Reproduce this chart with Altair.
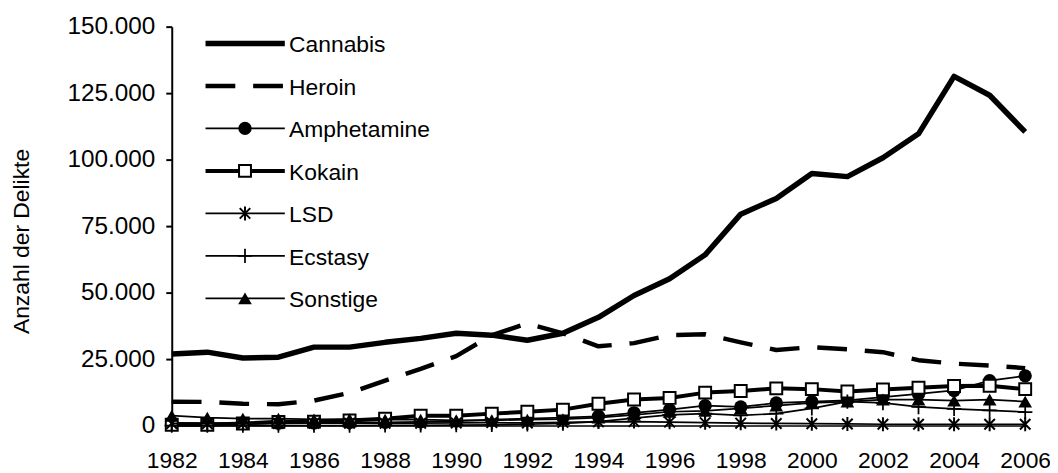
import altair as alt
import pandas as pd

years = list(range(1982, 2007))

cannabis = [26900, 27600, 25400, 25700, 29500, 29500, 31300, 32800, 34700, 34000,
            32100, 34700, 40700, 48900, 55200, 64200, 79500, 85400, 94800, 93600,
            100700, 109700, 131300, 124200, 110400]
heroin = [9000, 8900, 8200, 8000, 9400, 12300, 16900, 21300, 26100, 34000,
          38400, 34700, 29800, 31000, 34000, 34300, 31300, 28400, 29500, 28700,
          27600, 24600, 23300, 22600, 21600]
amphetamine = [1000, 900, 900, 900, 1000, 1100, 1200, 1400, 1700, 2200,
               2600, 3000, 3500, 4800, 6000, 7500, 7000, 8500, 9000, 9500,
               10700, 11900, 13200, 16900, 18700]
kokain = [300, 300, 800, 1400, 1500, 1900, 2600, 3700, 3700, 4500,
          5200, 6000, 8200, 9800, 10400, 12400, 13000, 14000, 13700, 12800,
          13600, 14200, 14900, 15000, 13700]
lsd = [800, 700, 700, 800, 900, 900, 900, 900, 1000, 1100,
       1000, 1200, 1400, 1500, 1300, 1100, 900, 800, 700, 600,
       500, 500, 500, 500, 500]
ecstasy = [0, 0, 0, 0, 0, 0, 100, 100, 200, 300,
           500, 800, 1500, 2800, 4000, 4500, 3800, 4500, 6500, 9000,
           8500, 7000, 6300, 5700, 5100]
sonstige = [3700, 3000, 2600, 2600, 2300, 2400, 2200, 2200, 2000, 2000,
            2200, 2400, 3000, 4000, 5200, 5500, 6500, 7500, 8500, 9000,
            9800, 9800, 9400, 9800, 9000]

series_names = ["Cannabis", "Heroin", "Amphetamine", "Kokain", "LSD", "Ecstasy", "Sonstige"]
series_values = [cannabis, heroin, amphetamine, kokain, lsd, ecstasy, sonstige]
y_ticks = [0, 25000, 50000, 75000, 100000, 125000, 150000]
x_ticks = list(range(1982, 2007, 2))

FONT = "Liberation Sans"
ASTERISK = "M0,-1L0,1M-0.75,-0.75L0.75,0.75M-0.75,0.75L0.75,-0.75"
PLUS = "M-1,0L1,0M0,-1L0,1"

styles = {
    "Cannabis": dict(w=5.5, dash=None, shape=None),
    "Heroin": dict(w=4.5, dash=[30, 18], shape=None),
    "Amphetamine": dict(w=1.75, dash=None, shape="circle", fill="black", stroke="black", sw=0, size=180),
    "Kokain": dict(w=4, dash=None, shape="square", fill="white", stroke="black", sw=2, size=144),
    "LSD": dict(w=1.75, dash=None, shape=ASTERISK, fill="transparent", stroke="black", sw=2, size=200),
    "Ecstasy": dict(w=1.75, dash=None, shape=PLUS, fill="transparent", stroke="black", sw=1.75, size=210),
    "Sonstige": dict(w=1.75, dash=None, shape="triangle-up", fill="black", stroke="black", sw=0, size=190),
}

x_scale = alt.Scale(domain=[1982, 2006], nice=False, zero=False)
y_scale = alt.Scale(domain=[0, 150000], nice=False)

x_axis = alt.Axis(values=x_ticks, format="d", grid=False, ticks=False, domain=True,
                  domainColor="black", domainWidth=1.5, labelFont=FONT, labelFontSize=23,
                  labelColor="black", labelPadding=24, title=None, labelFlush=False)
y_axis = alt.Axis(values=y_ticks, grid=False, domainColor="black", domainWidth=2,
                  tickColor="black", tickWidth=2, tickSize=6, labelFont=FONT,
                  labelFontSize=24.5, labelColor="black", labelPadding=11,
                  labelExpr="replace(format(datum.value, ','), ',', '.')",
                  title="Anzahl der Delikte", titleFont=FONT, titleFontSize=23,
                  titleFontWeight="normal", titleColor="black", titleX=-151, titleY=216,
                  titleBaseline="middle")


def X(field):
    return alt.X(field, type="quantitative", scale=x_scale, axis=x_axis)


def Y(field):
    return alt.Y(field, type="quantitative", scale=y_scale, axis=y_axis)


layers = []
for name, vals in zip(series_names, series_values):
    st = styles[name]
    df = pd.DataFrame({"year": years, "value": vals, "series": name})
    line_kw = dict(color="black", strokeWidth=st["w"], strokeJoin="round")
    if st["dash"]:
        line_kw["strokeDash"] = st["dash"]
        line_kw["strokeCap"] = "butt"
    layers.append(alt.Chart(df).mark_line(**line_kw).encode(x=X("year"), y=Y("value")))
    if st["shape"]:
        layers.append(alt.Chart(df).mark_point(
            shape=st["shape"], fill=st["fill"], stroke=st["stroke"], strokeWidth=st["sw"],
            size=st["size"], opacity=1, filled=False
        ).encode(x=X("year"), y=Y("value")))

# legend (positioned in data units inside the plot)
leg_x1, leg_x2, leg_xm, leg_xt = 1982.95, 1985.18, 1984.06, 1985.3
leg_top, leg_step = 143700, 15980
for i, name in enumerate(series_names):
    st = styles[name]
    ly = leg_top - i * leg_step
    ldf = pd.DataFrame({"year": [leg_x1], "year2": [leg_x2], "ym": [leg_xm], "yt": [leg_xt],
                        "value": [ly], "label": [name]})
    rule_kw = dict(color="black", strokeWidth=st["w"], strokeCap="butt")
    if st["dash"]:
        rule_kw["strokeDash"] = st["dash"]
    layers.append(alt.Chart(ldf).mark_rule(**rule_kw).encode(
        x=X("year"), x2="year2:Q", y=Y("value")))
    if st["shape"]:
        layers.append(alt.Chart(ldf).mark_point(
            shape=st["shape"], fill=st["fill"], stroke=st["stroke"], strokeWidth=st["sw"],
            size=st["size"], opacity=1, filled=False
        ).encode(x=X("ym"), y=Y("value")))
    layers.append(alt.Chart(ldf).mark_text(
        align="left", baseline="middle", font=FONT, fontSize=23, color="black", dy=2
    ).encode(x=X("yt"), y=Y("value"), text="label:N"))

chart = alt.layer(*layers).properties(
    width=860, height=402,
    background="white",
    autosize=alt.AutoSizeParams(type="none"),
    padding={"left": 165, "top": 17, "right": 25, "bottom": 46},
).configure_view(stroke=None)

chart.save("out.html", embed_options={"renderer": "svg", "actions": False})
